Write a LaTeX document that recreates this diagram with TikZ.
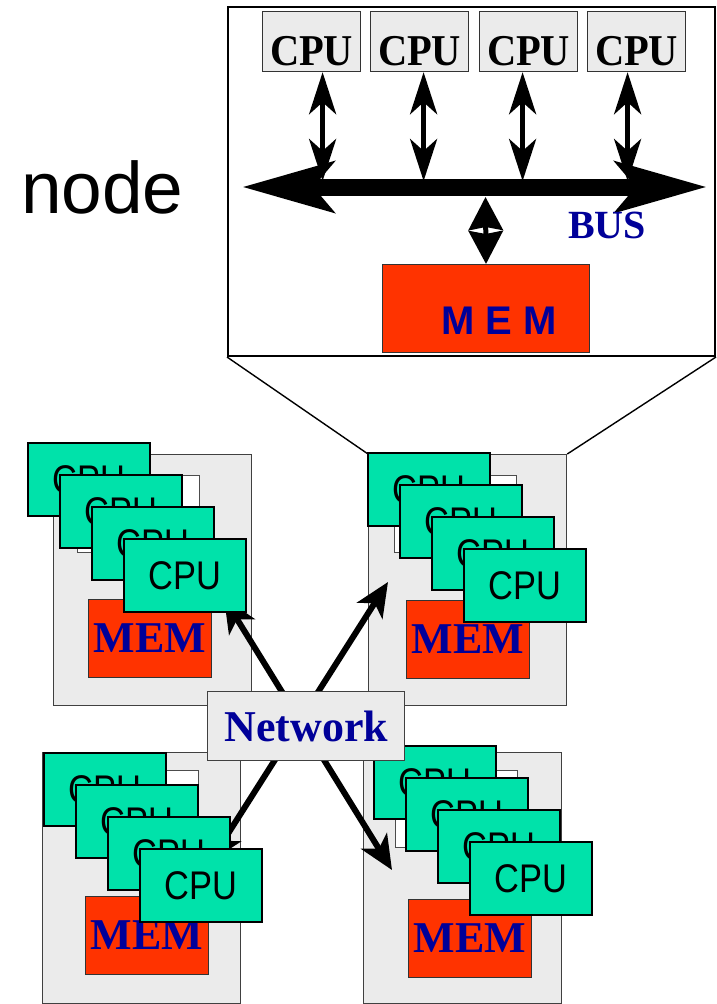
\documentclass[tikz,border=0pt]{standalone}
\usepackage{fontspec}
\setmainfont{Liberation Serif}
\setsansfont{Liberation Sans}
\newfontfamily\cpufont[FakeStretch=0.86]{Liberation Sans}
\newfontfamily\cpubold[FakeStretch=0.92]{Liberation Serif}
\usetikzlibrary{arrows.meta,positioning,calc}
\definecolor{cCpu} {RGB}{0,226,170}
\definecolor{cMem} {RGB}{255,51,0}
\definecolor{cBox} {RGB}{235,235,235}
\definecolor{cText}{RGB}{0,0,153}
\tikzset{
  frame/.style={draw,line width=2pt,anchor=north west,inner sep=0pt,
                minimum width=487pt,minimum height=349pt},        % zoomed node
  bcpu/.style={draw=black!80,fill=cBox,line width=1.2pt,anchor=north west,inner sep=0pt,
               minimum width=98pt,minimum height=60pt,text height=48pt,text depth=0pt,
               font=\cpubold\bfseries\fontsize{44}{44}\selectfont},
  gbox/.style={draw=black!75,fill=cBox,line width=1.3pt,anchor=north west,inner sep=0pt,
               minimum width=198pt,minimum height=251pt},          % one SMP node
  shade/.style={draw=black!70,fill=white,line width=1.2pt,anchor=north west,
                minimum width=122pt,minimum height=77pt},
  cpu/.style={draw,fill=cCpu,line width=2.2pt,anchor=north west,inner sep=0pt,
              minimum width=122pt,minimum height=73pt,
              font=\cpufont\fontsize{40}{40}\selectfont},
  mem/.style={draw=black!80,fill=cMem,line width=1pt,anchor=north west,inner sep=0pt,
              minimum width=123pt,minimum height=78pt,text=cText,
              font=\bfseries\fontsize{44}{44}\selectfont},
  bigmem/.style={mem,minimum width=207pt,minimum height=88pt},
  net/.style={draw=black!75,fill=cBox,line width=1.3pt,anchor=north west,inner sep=0pt,
              minimum width=197pt,minimum height=69pt,text=cText,
              font=\bfseries\fontsize{44}{44}\selectfont},
  bus/.style={line width=17pt,
              {Stealth[length=91pt,width=50pt,inset=20pt]}-{Stealth[length=91pt,width=50pt,inset=20pt]}},
  link/.style={line width=5pt,
               {Stealth[length=42pt,width=27pt,inset=12pt]}-{Stealth[length=42pt,width=27pt,inset=12pt]}},
  memlink/.style={line width=5pt,
               {Stealth[length=33pt,width=34pt,inset=3pt]}-{Stealth[length=33pt,width=34pt,inset=3pt]}},
  netlink/.style={line width=6pt,
               {Stealth[length=34pt,width=30pt,inset=9pt]}-{Stealth[length=34pt,width=30pt,inset=9pt]}},
  zline/.style={line width=1.4pt},
}

\begin{document}
\begin{tikzpicture}[x=1pt,y=-1pt]
  \useasboundingbox (0,0) rectangle (716,1004);

  % inside of one node: four CPUs on a bus with shared memory
  \node[frame] (zoom) at (227,6) {};
  \foreach \i/\x in {1/262,2/370,3/479,4/587}
    \node[bcpu] (p\i) at (\x,11) {CPU};
  \coordinate (busL) at (242,187);
  \coordinate (busR) at (707,187);
  \coordinate (bustop) at (0,181);
  \draw[bus] (busL) -- (busR);
  \foreach \i/\dx in {1/11,2/4,3/-6,4/-9}
    \draw[link] ([xshift=\dx pt]p\i.south) -- ([xshift=\dx pt]p\i.south |- bustop);
  \node[bigmem] (mem) at (382,264) {};
  \node[text=cText,font=\sffamily\bfseries\fontsize{40}{40}\selectfont] (memlbl) at (499,321) {M E M};
  \coordinate (busbot) at (485.5,197);
  \draw[memlink] (busbot) -- (mem.north);
  \node[text=cText,font=\bfseries\fontsize{40}{40}\selectfont] (buslbl) at (607,225) {BUS};
  \node[anchor=base west,inner sep=0pt,font=\sffamily\fontsize{73}{73}\selectfont] (lbl) at (21,213) {node};

  % four SMP nodes
  \node[gbox] (g1) at (53,454) {};
  \node[gbox] (g2) at (368,454) {};
  \node[gbox] (g3) at (42,752) {};
  \node[gbox] (g4) at (363,752) {};
  \draw[zline] (zoom.south west) -- (g2.north west);
  \draw[zline] (zoom.south east) -- (g2.north east);

  % network links (crossing behind the Network box)
  \coordinate (tl) at (224,598);
  \coordinate (br) at (392,870);
  \coordinate (tr) at (388,582);
  \coordinate (bl) at (210,862);
  \draw[netlink] (tl) -- (br);
  \draw[netlink] (tr) -- (bl);

  % #1 name, #2 shadow corner, #3 first cpu corner, #4 memory corner
  \newcommand{\smp}[4]{\node[shade] (#1s) at (#2) {};
     \node[mem] (#1m) at (#4) {MEM};
     \foreach \k in {0,...,3}
       \node[cpu] (#1c\k) at ($(#3)+(32*\k,32*\k)$) {CPU};}
  \smp{a}{77,475}{27,442}{88,599}
  \smp{b}{394,475}{367,452}{406,600}
  \smp{c}{76,770}{43,752}{85,896}
  \smp{d}{395,770}{373,745}{408,899}

  \node[net] (netw) at (207,691) {Network};
\end{tikzpicture}
\end{document}
